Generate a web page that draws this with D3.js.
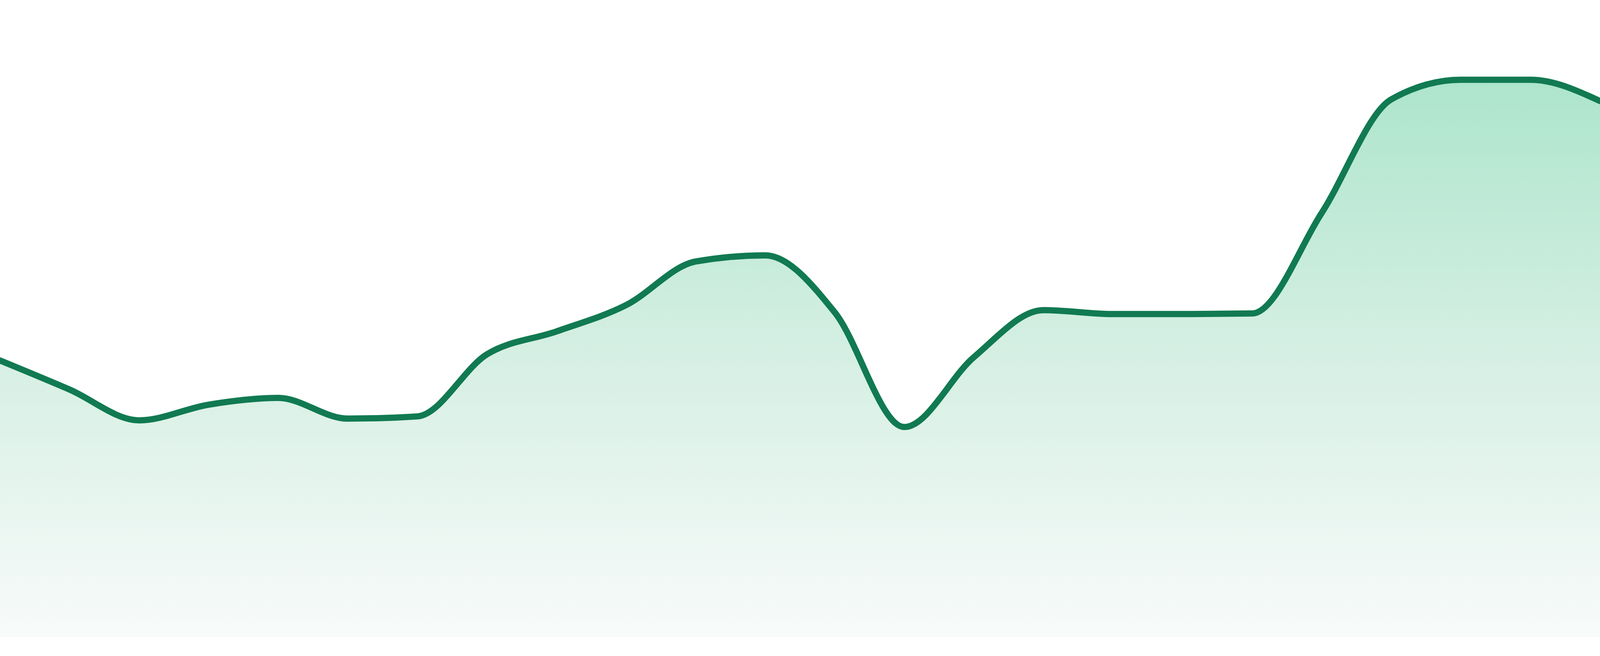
<!DOCTYPE html>
<html>
<head>
<meta charset="utf-8">
<script src="https://cdn.jsdelivr.net/npm/d3@7/dist/d3.min.js"></script>
<style>
  html, body { margin: 0; padding: 0; background: #ffffff; overflow: hidden; width: 100%; height: 100%; }
  svg { display: block; position: absolute; left: 0; top: 0; }
</style>
</head>
<body>
<svg id="chart"></svg>
<script>
// Data (24 evenly spaced samples)
const periods = d3.range(24);
const values = [49.5, 44.3, 38.8, 41.6, 42.8, 39.1, 39.5, 50.6, 54.7, 59.4, 67.2, 68.3,
                58.1, 37.6, 50.1, 58.5, 57.8, 57.8, 57.9, 75.9, 96.2, 99.7, 99.7, 95.9];
const valueDomain = [0, 100];

// Draw into the real viewport so the whole chart is visible
const W = window.innerWidth || 4800;
const H = window.innerHeight || 1680;
const baseY = H * (1632 / 1680);
const topY = H * (200 / 1680);

const svg = d3.select("#chart").attr("width", W).attr("height", H);

const x = d3.scaleLinear().domain([0, periods.length - 1]).range([0, W]);
const y = d3.scaleLinear().domain(valueDomain).range([baseY, topY]);

const data = periods.map((p, i) => ({ p, v: values[i] }));

const defs = svg.append("defs");
const grad = defs.append("linearGradient")
  .attr("id", "fillGrad")
  .attr("x1", 0).attr("y1", 0).attr("x2", 0).attr("y2", 1);
grad.append("stop").attr("offset", "0%").attr("stop-color", "#ade5cc");
grad.append("stop").attr("offset", "50%").attr("stop-color", "#d6efe4");
grad.append("stop").attr("offset", "100%").attr("stop-color", "#f8fbfa");

const area = d3.area()
  .x(d => x(d.p))
  .y0(baseY)
  .y1(d => y(d.v))
  .curve(d3.curveMonotoneX);

const line = d3.line()
  .x(d => x(d.p))
  .y(d => y(d.v))
  .curve(d3.curveMonotoneX);

svg.append("path")
  .datum(data)
  .attr("d", area)
  .attr("fill", "url(#fillGrad)");

svg.append("path")
  .datum(data)
  .attr("d", line)
  .attr("fill", "none")
  .attr("stroke", "#117a52")
  .attr("stroke-width", 16)
  .attr("stroke-linejoin", "round")
  .attr("stroke-linecap", "round");
</script>
</body>
</html>
